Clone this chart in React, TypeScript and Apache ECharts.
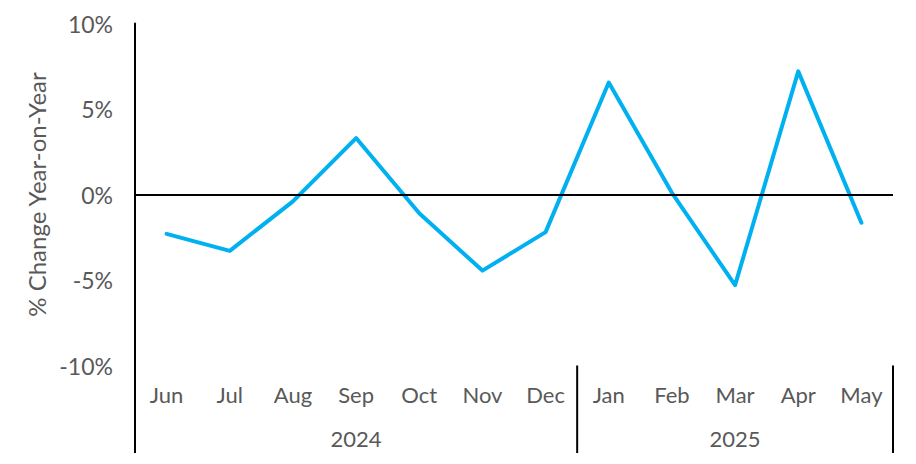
import React, { useEffect, useRef } from "react";
import * as echarts from "echarts";

const months = ["Jun", "Jul", "Aug", "Sep", "Oct", "Nov", "Dec", "Jan", "Feb", "Mar", "Apr", "May"];
const yoyChange = [-2.3, -3.3, -0.4, 3.3, -1.1, -4.45, -2.2, 6.55, 0.1, -5.3, 7.2, -1.65];
const yearGroups = [
  { label: "2024", first: "Jun", last: "Dec" },
  { label: "2025", first: "Jan", last: "May" },
];
const yTicks = { min: -10, max: 10, interval: 5 };

const FONT = "Lato";
const GREY = "#595959";

export default function App() {
  const ref = useRef<HTMLDivElement>(null);

  useEffect(() => {
    if (!ref.current) return;
    const chart = echarts.init(ref.current, undefined, { renderer: "svg" });
    chart.setOption({
      animation: false,
      grid: { left: 135, right: 23, top: 23.5, bottom: 98.5 },
      xAxis: {
        type: "category",
        data: months,
        boundaryGap: true,
        axisLine: { show: false },
        axisTick: { show: false },
        axisLabel: { color: GREY, fontFamily: FONT, fontSize: 22, margin: 18 },
      },
      yAxis: {
        type: "value",
        min: yTicks.min,
        max: yTicks.max,
        interval: yTicks.interval,
        splitLine: { show: false },
        axisTick: { show: false },
        axisLine: { show: true, lineStyle: { color: "#000", width: 2 } },
        axisLabel: {
          color: GREY,
          fontFamily: FONT,
          fontSize: 23,
          margin: 22,
          formatter: (v: number) => `${v}%`,
        },
        name: "% Change Year-on-Year",
        nameLocation: "middle",
        nameGap: 84,
        nameTextStyle: { color: GREY, fontFamily: FONT, fontSize: 24 },
      },
      series: [
        {
          type: "line",
          data: yoyChange,
          symbol: "none",
          lineStyle: { color: "#00B0F0", width: 4, cap: "round", join: "round" },
          markLine: {
            silent: true,
            symbol: "none",
            label: { show: false },
            lineStyle: { color: "#000", width: 2, type: "solid" },
            data: [{ yAxis: 0 }],
          },
          z: 3,
        },
      ],
    });

    // Group row under the month labels: separators and year captions
    const cx = (m: string) => chart.convertToPixel({ xAxisIndex: 0 }, m) as number;
    const band = cx(months[1]) - cx(months[0]);
    const yBottom = chart.convertToPixel({ yAxisIndex: 0 }, yTicks.min) as number;
    const yAxisX = cx(months[0]) - band / 2;
    const lineEnd = 453;
    const graphics: any[] = [
      {
        type: "line",
        shape: { x1: yAxisX, y1: yBottom, x2: yAxisX, y2: lineEnd },
        style: { stroke: "#000", lineWidth: 2 },
      },
    ];
    yearGroups.forEach((g) => {
      const left = cx(g.first) - band / 2;
      const right = cx(g.last) + band / 2;
      graphics.push({
        type: "line",
        shape: { x1: right, y1: yBottom, x2: right, y2: lineEnd },
        style: { stroke: "#000", lineWidth: 2 },
      });
      graphics.push({
        type: "text",
        x: (left + right) / 2,
        y: 438,
        style: {
          text: g.label,
          fill: GREY,
          font: `22px ${FONT}`,
          textAlign: "center",
          textVerticalAlign: "middle",
        },
      });
    });
    chart.setOption({ graphic: graphics });

    return () => chart.dispose();
  }, []);

  return (
    <div
      ref={ref}
      style={{ position: "absolute", left: 0, top: 0, width: 916, height: 464 }}
    />
  );
}
